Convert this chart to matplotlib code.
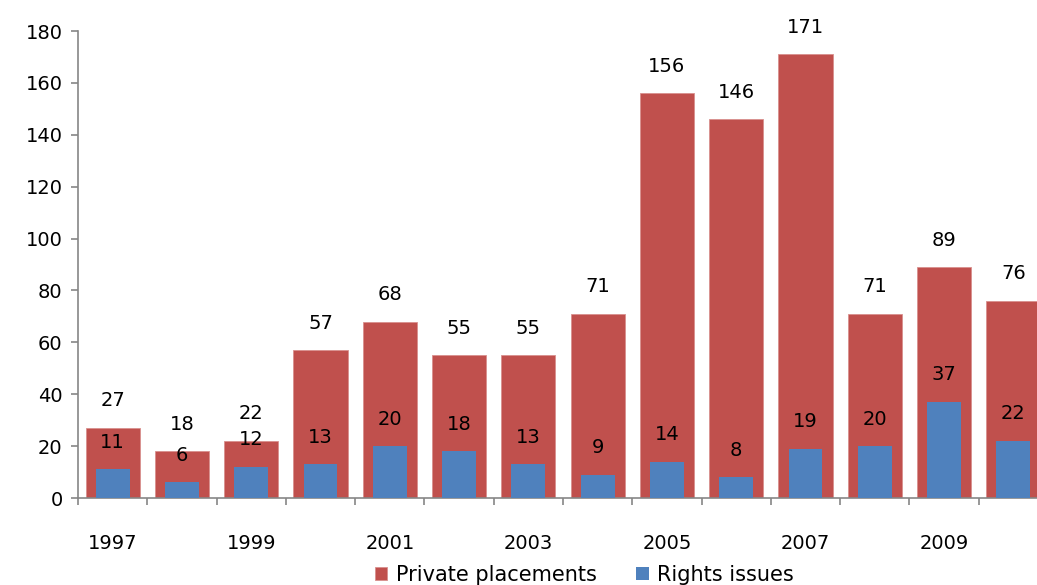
import matplotlib.pyplot as plt
import numpy as np

plt.rcParams['font.family'] = ['DejaVu Sans']

years = list(range(1997, 2011))
private_placements = [27, 18, 22, 57, 68, 55, 55, 71, 156, 146, 171, 71, 89, 76]
rights_issues = [11, 6, 12, 13, 20, 18, 13, 9, 14, 8, 19, 20, 37, 22]
year_labels = ['1997', '', '1999', '', '2001', '', '2003', '', '2005', '', '2007', '', '2009', '']

red = '#C0504D'
blue = '#4F81BD'
grey = '#868686'

fig = plt.figure(figsize=(10.37, 5.85), dpi=100)
ax = fig.add_axes([0.0752, 0.1487, 0.9354, 0.7983])

x = np.arange(len(years))
bars_pp = ax.bar(x, private_placements, width=0.78, color=red, edgecolor='#D9908E',
                 linewidth=0.6, label='Private placements', zorder=2)
bars_ri = ax.bar(x, rights_issues, width=0.49, color=blue, label='Rights issues', zorder=3)

# value labels sit a fixed distance above each bar top
for xi, v in zip(x, private_placements):
    ax.annotate(str(v), (xi, v), xytext=(0, 19.5), textcoords='offset points',
                ha='center', va='center', fontsize=14, color='black')
for xi, v in zip(x, rights_issues):
    ax.annotate(str(v), (xi, v), xytext=(0, 19.5), textcoords='offset points',
                ha='center', va='center', fontsize=14, color='black', zorder=4)

ax.set_xlim(-0.5, len(years) - 0.5)
ax.set_ylim(0, 180)
ax.set_yticks(range(0, 181, 20))

# ticks at category boundaries, labels on category centres
ax.set_xticks(np.arange(-0.5, len(years), 1.0))
ax.set_xticklabels([])
ax.set_xticks(x, minor=True)
ax.set_xticklabels(year_labels, minor=True)
ax.tick_params(axis='x', which='minor', length=0, pad=26, labelsize=14)
ax.tick_params(axis='x', which='major', length=5, width=1.2, color=grey, direction='out')
ax.tick_params(axis='y', length=5, width=1.2, color=grey, direction='out', labelsize=14, pad=6)

for side in ['top', 'right']:
    ax.spines[side].set_visible(False)
for side in ['left', 'bottom']:
    ax.spines[side].set_color(grey)
    ax.spines[side].set_linewidth(1.2)

ax.legend(handles=[bars_pp, bars_ri], loc='center', bbox_to_anchor=(0.522, -0.165),
          ncol=2, frameon=False, fontsize=15, handlelength=0.6, handleheight=0.6,
          handletextpad=0.4, columnspacing=1.9)

fig.savefig('out.png', dpi=100)
